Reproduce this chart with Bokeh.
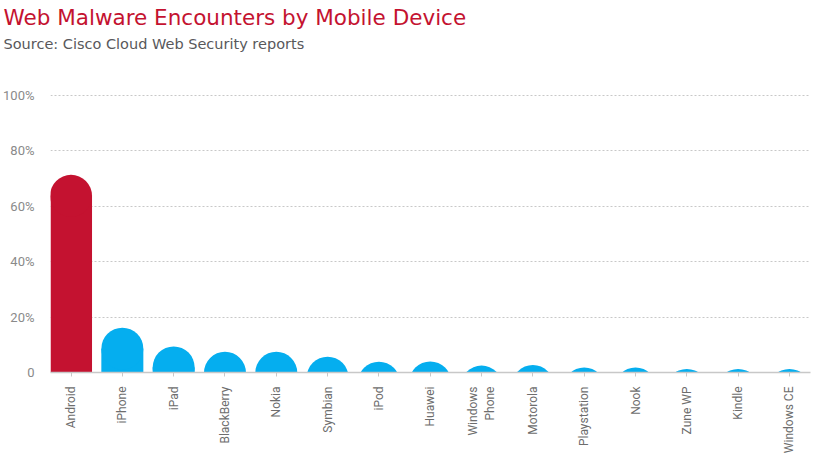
from bokeh.plotting import figure
from bokeh.models import ColumnDataSource, FixedTicker, Title, Range1d, LinearAxis
from bokeh.embed import file_html
from bokeh.resources import INLINE

# ---- data ----
devices = ["Android", "iPhone", "iPad", "BlackBerry", "Nokia", "Symbian", "iPod",
           "Huawei", "Windows\nPhone", "Motorola", "Playstation", "Nook",
           "Zune WP", "Kindle", "Windows CE"]
shares = [71.4, 16.2, 9.4, 7.5, 7.5, 5.7, 3.9, 4.0, 2.5, 2.7, 1.8, 1.8, 1.3, 1.3, 1.3]
y_ticks = [0, 20, 40, 60, 80, 100]
y_tick_labels = ["0", "20%", "40%", "60%", "80%", "100%"]

title_text = "Web Malware Encounters by Mobile Device"
subtitle_text = "Source: Cisco Cloud Web Security reports"

RED = "#c41230"
BLUE = "#05aeef"
FONT = "Roboto"
TFONT = "DejaVu Sans"

FRAME_W, FRAME_H = 760, 278
X0, X1 = -0.4, 14.41
Y0, Y1 = 0, 100.4
R_PX = 21  # radius of the rounded bar top, in pixels

px_per_x = FRAME_W / (X1 - X0)
y_per_px = (Y1 - Y0) / FRAME_H
r_y = R_PX * y_per_px

xs = list(range(len(devices)))
centers = [v - r_y for v in shares]
rect_tops = [max(c, 0) for c in centers]
colors = [RED if i == 0 else BLUE for i in xs]

src = ColumnDataSource(dict(x=xs, top=rect_tops, cy=centers, color=colors))

p = figure(frame_width=FRAME_W, frame_height=FRAME_H,
           x_range=Range1d(X0, X1), y_range=Range1d(Y0, Y1),
           output_backend="svg", toolbar_location=None,
           min_border_left=49, min_border_right=16, min_border_top=94,
           min_border_bottom=0, background_fill_color="white",
           border_fill_color="white", outline_line_color=None)

p.vbar(x="x", top="top", bottom=0, width=2 * R_PX / px_per_x, source=src,
       fill_color="color", line_color=None)
p.circle(x="x", y="cy", radius=R_PX, radius_units="screen", source=src,
         fill_color="color", line_color=None)

# x axis (bottom) -- configure before adding the spacer axis
xa = p.below[0]
xa.ticker = FixedTicker(ticks=xs)
xa.major_label_overrides = {i: d for i, d in zip(xs, devices)}
xa.major_label_orientation = 3.14159265 / 2
xa.axis_line_color = "#c8c8c8"
xa.axis_line_width = 1.5
xa.major_tick_line_color = "#c8c8c8"
xa.major_tick_in = 0
xa.major_tick_out = 4
xa.minor_tick_line_color = None
xa.major_label_standoff = 10
xa.major_label_text_font = FONT
xa.major_label_text_font_size = "12px"
xa.major_label_text_color = "#6d6d6d"

# invisible spacer between the subtitle and the plot area
spacer = LinearAxis(ticker=FixedTicker(ticks=[0]), axis_line_color=None,
                    major_tick_out=39, major_tick_in=0, minor_tick_out=0,
                    minor_tick_in=0, major_label_standoff=0,
                    major_label_overrides={0: ""},
                    major_label_text_font_size="1px",
                    major_tick_line_color=None, minor_tick_line_color=None)
p.add_layout(spacer, "above")

# titles
p.add_layout(Title(text=subtitle_text, text_font=TFONT, text_font_size="14.5px",
                   text_font_style="normal", text_color="#58585b",
                   align="left", offset=-47, standoff=8), "above")
p.add_layout(Title(text=title_text, text_font=TFONT, text_font_size="21.5px",
                   text_font_style="normal", text_color=RED,
                   align="left", offset=-47, standoff=0), "above")

# y axis
ya = p.left[0]
ya.ticker = FixedTicker(ticks=y_ticks)
ya.major_label_overrides = {t: l for t, l in zip(y_ticks, y_tick_labels)}
ya.axis_line_color = None
ya.major_tick_line_color = None
ya.minor_tick_line_color = None
ya.major_tick_out = 0
ya.major_label_standoff = 16
ya.major_label_text_font = FONT
ya.major_label_text_font_size = "13px"
ya.major_label_text_color = "#8a8a8a"

p.xgrid.grid_line_color = None
p.ygrid.grid_line_color = "#c8c8c8"
p.ygrid.grid_line_dash = "2 2"
p.ygrid.grid_line_width = 1

open("out.html", "w").write(file_html(p, INLINE))
